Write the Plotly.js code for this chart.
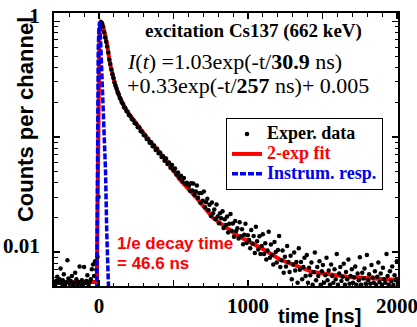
<!DOCTYPE html>
<html><head><meta charset="utf-8">
<script src="https://cdn.plot.ly/plotly-3.0.1.min.js"></script>
<style>html,body{margin:0;padding:0;background:#fff}#chart{width:417px;height:327px}</style>
</head><body><div id="chart"></div>
<script>
// Experimental data: time [ns]
const dataT = [
-295,-288,-280,-272,-265,-258,-250,-243,-236,-228,-220,-212,-205,-198,-190,-182,-175,-168,-160,-152,
-145,-137,-130,-122,-115,-108,-100,-92,-85,-78,-70,-62,-55,-48,-40,-33,-26,-18,-10,-3,
7,14,20,27,34,41,48,55,62,69,76,83,90,97,104,111,118,125,132,139,146,153,160,168,176,184,192,
200,210,220,230,240,250,260,270,280,290,300,310,320,330,340,350,360,370,380,390,
400,410,420,430,440,450,460,470,480,490,500,510,520,530,540,550,560,570,580,590,
603,611,618,626,633,641,650,657,665,673,680,688,697,704,712,719,727,735,742,751,
758,766,774,781,789,797,805,812,820,829,836,844,852,860,867,875,883,890,898,906,
914,921,929,937,944,952,960,968,975,983,991,999,
1007,1015,1022,1030,1038,1046,1053,1061,1069,1077,1084,1092,1100,1108,1116,1123,1131,1139,1147,1154,
1162,1170,1178,1186,1193,1201,1209,1217,1224,1232,1240,1248,1255,1263,1271,1279,1286,1294,1302,1310,
1317,1325,1333,1341,1348,1356,1364,1372,1379,1387,1395,1403,1410,1418,1426,1434,1441,1449,1457,1465,
1472,1480,1488,1496,1503,1511,1519,1527,1534,1542,1550,1558,1565,1573,1581,1589,1596,1604,1612,1620,
1627,1635,1643,1651,1658,1666,1674,1682,1689,1697,1705,1713,1720,1728,1736,1744,1751,1759,1767,1775,
1782,1790,1798,1806,1813,1821,1829,1837,1844,1852,1860,1868,1875,1883,1891,1899,1906,1914,1922,1930,
1937,1945,1953,1961,1968,1976,1984,1992,1999
];
// Experimental data: counts per channel (normalized)
const dataV = [
0.0052,0.0056,0.0061,0.0054,0.0058,0.0072,0.0053,0.0057,0.0064,0.0052,0.0055,0.0085,0.0059,0.0053,0.0056,0.0062,0.0051,0.0054,0.0066,0.0058,
0.0052,0.0055,0.0075,0.0053,0.0057,0.0052,0.0074,0.0054,0.0056,0.0063,0.0052,0.0055,0.0058,0.0071,0.0078,0.0062,0.0083,0.0070,0.0091,0.030,
0.45,0.99,0.97,0.91,0.81,0.73,0.67,0.61,0.54,0.47,0.43,0.385,0.35,0.325,0.297,0.278,0.262,0.244,0.235,0.219,0.212,0.199,0.194,0.181,0.178,0.168,0.165,
0.155,0.152,0.143,0.140,0.131,0.130,0.121,0.121,0.112,0.111,0.104,0.103,0.096,0.096,0.089,0.090,0.083,0.084,0.077,0.079,
0.072,0.073,0.067,0.068,0.062,0.065,0.058,0.060,0.054,0.057,0.051,0.053,0.047,0.049,0.044,0.046,0.041,0.044,0.039,0.040,
0.0375,0.034,0.0395,0.0342,0.0394,0.0314,0.0335,0.0379,0.0296,0.0324,0.0268,0.0325,0.0279,0.0335,0.0245,0.027,0.029,0.0231,0.0257,0.0206,
0.0269,0.0217,0.0234,0.0194,0.0259,0.0203,0.0178,0.0217,0.0196,0.0226,0.0162,0.0193,0.0172,0.0203,0.0148,0.0176,0.0214,0.0153,0.0177,0.0136,
0.0186,0.0152,0.0161,0.0131,0.0181,0.0137,0.0158,0.0117,0.0141,0.0176,0.0120,0.0140,
0.0127,0.0108,0.0155,0.0118,0.0138,0.0098,0.0166,0.0124,0.0105,0.0137,0.0096,0.0113,0.0143,0.0096,0.0119,0.0086,0.0103,0.0150,0.0089,0.0116,
0.0094,0.0078,0.0122,0.0100,0.0081,0.0104,0.0138,0.0074,0.0085,0.0103,0.0066,0.0091,0.0075,0.0113,0.0082,0.0067,0.0093,0.0058,0.0078,0.0099,
0.0069,0.0082,0.0054,0.0108,0.0070,0.0082,0.0058,0.0074,0.0089,0.0062,0.0094,0.0054,0.0073,0.0063,0.0081,0.0052,0.0067,0.0099,0.0057,0.0074,
0.0062,0.0083,0.0052,0.0068,0.0077,0.0054,0.0063,0.0089,0.0057,0.0069,0.0052,0.0078,0.0062,0.0054,0.0071,0.0058,0.0096,0.0052,0.0065,0.0074,
0.0056,0.0061,0.0079,0.0052,0.0067,0.0058,0.0086,0.0053,0.0062,0.0071,0.0054,0.0060,0.0075,0.0052,0.0065,0.0057,0.0090,0.0052,0.0066,0.0059,
0.0072,0.0053,0.0094,0.0057,0.0064,0.0053,0.0077,0.0060,0.0054,0.0068,0.0052,0.0061,0.0081,0.0055,0.0065,0.0052,0.0073,0.0058,0.0054,0.0096,
0.0062,0.0052,0.0068,0.0056,0.0075,0.0052,0.0063,0.0057,0.0083
];
// 2-exp fit curve
const fitT = [-310,-14,-10,-6,-2,3,8,13,20,27,40,54,74,90,107,141,188,255,342,450,544,650,765,926,1100,1215,1436,1664,2010];
const fitV = [0.0055,0.0055,0.02,0.15,0.45,0.8,0.95,0.99,0.97,0.92,0.78,0.64,0.43,0.35,0.29,0.217,0.167,0.128,0.091,0.063,0.0425,0.030,0.0198,0.0140,0.0106,0.0086,0.0067,0.0061,0.0057];
// Instrumental response
const irfT = [-15,-12,-9,-5,0,4,8,14,20,28,36,44,52,60,66];
const irfV = [0.004,0.03,0.25,0.6,0.9,1.0,0.85,0.5,0.3,0.2,0.12,0.05,0.015,0.006,0.004];

const xTickVals = [0,500,1000,1500,2000];
const xTickText = ['0','','1000','','2000'];
const yTickVals = [0.01,0.1,1];
const yTickText = ['0.01','','1'];
const yMinor = [];
[0.001,0.01,0.1].forEach(d=>{for(let k=2;k<=9;k++) yMinor.push(k*d);});

const serif = 'Liberation Serif, Times New Roman, serif';
const sans = 'Liberation Sans, Arial, sans-serif';
const lg = (txt, col) => '<span style="font-size:18px;color:' + col + '">' + txt + '</span>';

const traces = [
  {x: fitT, y: fitV, type:'scatter', mode:'lines', name: lg('2-exp fit', '#ff0000'),
   line:{color:'#ff0000', width:4}, legendrank:2},
  {x: dataT, y: dataV, type:'scatter', mode:'markers', name: lg('Exper. data', '#000000'),
   marker:{color:'#000', size:4.5}, legendrank:1},
  {x: irfT, y: irfV, type:'scatter', mode:'lines', name: lg('Instrum. resp.', '#0000ee'),
   line:{color:'#0000ee', width:3.5, dash:'6px,2px'}, legendrank:3}
];

const axCommon = {showgrid:false, zeroline:false, linecolor:'#000', linewidth:2, mirror:'allticks',
  ticks:'inside', ticklen:6, tickwidth:1.5, tickcolor:'#000', ticklabeloverflow:'allow',
  tickfont:{family:serif, size:21, weight:'bold', color:'#000'}};

const layout = {
  width:417, height:327,
  margin:{l:54, r:19, t:13, b:41},
  paper_bgcolor:'#fff', plot_bgcolor:'#fff',
  showlegend:true,
  legend:{x:0.5, y:0.615, xanchor:'left', yanchor:'top', bgcolor:'#fff', bordercolor:'#000', borderwidth:1,
    font:{family:serif, size:13, weight:'bold', color:'#000'}, tracegroupgap:0},
  xaxis: Object.assign({}, axCommon, {range:[-302,2007], tickmode:'array', tickvals:xTickVals, ticktext:xTickText,
    ticklabelstandoff:0,
    minor:{tickmode:'linear', tick0:0, dtick:100, ticks:'inside', ticklen:3.5, tickwidth:1, tickcolor:'#000'}}),
  yaxis: Object.assign({}, axCommon, {type:'log', range:[-2.295,0.0755], tickmode:'array', tickvals:yTickVals, ticktext:yTickText,
    ticklabelstandoff:8, ticklabelshift:-6,
    minor:{tickmode:'array', tickvals:yMinor, ticks:'inside', ticklen:3.5, tickwidth:1, tickcolor:'#000'}}),
  annotations:[
    {xref:'paper', yref:'paper', x:0.259, y:0.934, xanchor:'left', yanchor:'middle', showarrow:false,
     text:'<b>excitation Cs137 (662 keV)</b>', font:{family:serif, size:19, color:'#000'}},
    {xref:'paper', yref:'paper', x:0.206, y:0.824, xanchor:'left', yanchor:'middle', showarrow:false,
     text:'<i>I</i>(<i>t</i>) =1.03exp(-t/<b>30.9</b> ns)', font:{family:serif, size:22, color:'#000'}},
    {xref:'paper', yref:'paper', x:0.206, y:0.736, xanchor:'left', yanchor:'middle', showarrow:false,
     text:'+0.33exp(-t/<b>257</b> ns)+ 0.005', font:{family:serif, size:22, color:'#000'}},
    {xref:'paper', yref:'paper', x:0.177, y:0.157, xanchor:'left', yanchor:'middle', showarrow:false,
     text:'<b>1/e decay time</b>', font:{family:sans, size:17, color:'#ff0000'}},
    {xref:'paper', yref:'paper', x:0.177, y:0.084, xanchor:'left', yanchor:'middle', showarrow:false,
     text:'<b>= 46.6 ns</b>', font:{family:sans, size:17, color:'#ff0000'}},
    {xref:'paper', yref:'paper', x:0.773, y:-0.11, xanchor:'center', yanchor:'middle', showarrow:false,
     text:'<b>time [ns]</b>', font:{family:sans, size:20, color:'#000'}},
    {xref:'paper', yref:'paper', x:-0.084, y:0.608, xanchor:'center', yanchor:'middle', showarrow:false, textangle:-90,
     text:'<b>Counts per channel</b>', font:{family:sans, size:22, color:'#000'}}
  ]
};

Plotly.newPlot('chart', traces, layout, {staticPlot:true, displayModeBar:false});
</script>
</body></html>
